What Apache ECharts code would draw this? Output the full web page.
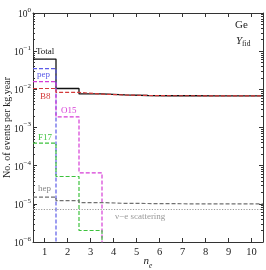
<!DOCTYPE html>
<html><head><meta charset="utf-8">
<script src="https://cdn.jsdelivr.net/npm/echarts@6/dist/echarts.min.js"></script>
<style>html,body{margin:0;padding:0;background:#fff}#c{width:266px;height:270px}</style>
</head><body><div id="c"></div>
<script>
// bin centres (n_e)
const bins = [1, 2, 3, 4, 5, 6, 7, 8, 9, 10];
// events per kg.year in each bin (0 = none)
const total = [0.062, 0.0105, 0.0076, 0.0072, 0.0069, 0.0068, 0.0068, 0.0067, 0.0067, 0.0067];
const pep   = [0.035, 0, 0, 0, 0, 0, 0, 0, 0, 0];
const b8    = [0.0105, 0.0083, 0.0075, 0.0071, 0.0069, 0.0068, 0.0068, 0.0067, 0.0067, 0.0067];
const o15   = [0.016, 0.0019, 6.5e-5, 0, 0, 0, 0, 0, 0, 0];
const f17   = [3.9e-4, 5.2e-5, 2.0e-6, 0, 0, 0, 0, 0, 0, 0];
const hep   = [1.5e-5, 1.22e-5, 1.08e-5, 1.03e-5, 1.02e-5, 1.01e-5, 1.0e-5, 1.0e-5, 1.0e-5, 1.0e-5];
const vesc  = [7.1e-6, 7.1e-6, 7.1e-6, 7.1e-6, 7.1e-6, 7.1e-6, 7.1e-6, 7.1e-6, 7.1e-6, 7.1e-6];
const xTicks = [1, 2, 3, 4, 5, 6, 7, 8, 9, 10];
const yTicks = [1e-6, 1e-5, 1e-4, 1e-3, 1e-2, 1e-1, 1];

const FONT = 'Liberation Serif';
const FLOOR = 1e-9;
function steps(vals) {
  const d = vals.map((v, i) => [bins[i] - 0.5, v > 0 ? v : FLOOR]);
  const last = vals[vals.length - 1];
  d.push([bins[bins.length - 1] + 0.5, last > 0 ? last : FLOOR]);
  return d;
}
const minorY = [];
for (let e = -6; e < 0; e++) for (let m = 2; m <= 9; m++) minorY.push(m * Math.pow(10, e));

function supLabel(v) {
  const e = Math.round(Math.log10(v));
  const s = e === 0 ? '0' : '\u2212' + (-e);
  return '{b|10}{s|' + s + '}';
}
const rich = {
  b: {fontFamily: FONT, fontSize: 9.5, color: '#222', lineHeight: 13, verticalAlign: 'bottom'},
  s: {fontFamily: FONT, fontSize: 7, color: '#222', lineHeight: 13, verticalAlign: 'top', padding: [0, 0, 6, 0]}
};

function ser(name, vals, color, type, w) {
  return {
    name, type: 'line', step: 'end', data: steps(vals), symbol: 'none',
    xAxisIndex: 0, yAxisIndex: 0, clip: true,
    lineStyle: {color, width: w || 1.2, type: type}, animation: false
  };
}

const chart = echarts.init(document.getElementById('c'));
const axisLine = {show: true, lineStyle: {color: '#333', width: 1}};
chart.setOption({
  animation: false,
  grid: {left: 33, right: 3, top: 13, bottom: 28, containLabel: false, outerBoundsMode: 'none'},
  xAxis: [
    {type: 'value', min: 0.5, max: 10.5, position: 'bottom',
     axisLine, splitLine: {show: false},
     axisTick: {inside: true, length: 4, customValues: xTicks, lineStyle: {color: '#333'}},
     axisLabel: {customValues: xTicks, fontFamily: FONT, fontSize: 10.5, color: '#222', margin: 5},
     name: '{i|n}{e|e}', nameLocation: 'middle', nameGap: 14, nameMoveOverlap: false,
     nameTextStyle: {rich: {
       i: {fontFamily: FONT, fontStyle: 'italic', fontSize: 11, color: '#222', lineHeight: 14, verticalAlign: 'top'},
       e: {fontFamily: FONT, fontStyle: 'italic', fontSize: 7.5, color: '#222', lineHeight: 14, verticalAlign: 'bottom', padding: [4, 0, 0, 0]}
     }}},
    {type: 'value', min: 0.5, max: 10.5, position: 'top',
     axisLine, splitLine: {show: false},
     axisTick: {inside: true, length: 4, customValues: xTicks, lineStyle: {color: '#333'}},
     axisLabel: {show: false}}
  ],
  yAxis: [
    {type: 'log', logBase: 10, min: 1e-6, max: 1, position: 'left',
     axisLine, splitLine: {show: false},
     axisTick: {inside: true, length: 4, customValues: yTicks, lineStyle: {color: '#333'}},
     axisLabel: {customValues: yTicks, formatter: supLabel, rich, margin: 2},
     name: 'No. of events per kg.year', nameLocation: 'middle', nameGap: 21, nameMoveOverlap: false,
     nameTextStyle: {fontFamily: FONT, fontSize: 10, color: '#222'}},
    {type: 'log', logBase: 10, min: 1e-6, max: 1, position: 'left',
     axisLine: {show: false}, splitLine: {show: false},
     axisTick: {inside: true, length: 2, customValues: minorY, lineStyle: {color: '#333'}},
     axisLabel: {show: false}},
    {type: 'log', logBase: 10, min: 1e-6, max: 1, position: 'right',
     axisLine, splitLine: {show: false},
     axisTick: {inside: true, length: 4, customValues: yTicks, lineStyle: {color: '#333'}},
     axisLabel: {show: false}},
    {type: 'log', logBase: 10, min: 1e-6, max: 1, position: 'right',
     axisLine: {show: false}, splitLine: {show: false},
     axisTick: {inside: true, length: 2, customValues: minorY, lineStyle: {color: '#333'}},
     axisLabel: {show: false}}
  ],
  series: [
    ser('Total', total, '#111', 'solid', 1.3),
    ser('pep', pep, '#5b5be8', [4, 2]),
    ser('O15', o15, '#d63cd6', [4, 2]),
    ser('F17', f17, '#3cc23c', [4, 2]),
    ser('hep', hep, '#707070', [4, 2]),
    ser('ve', vesc, '#999', [1.2, 1.5]),
    ser('B8', b8, '#d43a3a', [4, 2])
  ],
  graphic: [
    {type: 'text', left: 36, top: 47, style: {text: 'Total', font: '9px "Liberation Serif"', fill: '#111'}},
    {type: 'text', left: 37, top: 70, style: {text: 'pep', font: '9px "Liberation Serif"', fill: '#5b5be8'}},
    {type: 'text', left: 40, top: 92, style: {text: 'B8', font: '9px "Liberation Serif"', fill: '#d43a3a'}},
    {type: 'text', left: 61, top: 106, style: {text: 'O15', font: '9px "Liberation Serif"', fill: '#d63cd6'}},
    {type: 'text', left: 38, top: 133, style: {text: 'F17', font: '9px "Liberation Serif"', fill: '#3cc23c'}},
    {type: 'text', left: 38, top: 184, style: {text: 'hep', font: '9px "Liberation Serif"', fill: '#888'}},
    {type: 'text', left: 115, top: 212, style: {text: '\u03bd\u2212e scattering', font: '9px "Liberation Serif"', fill: '#999'}},
    {type: 'text', left: 235, top: 20, style: {text: 'Ge', font: '11px "Liberation Serif"', fill: '#222'}},
    {type: 'text', left: 236, top: 36, style: {
      rich: {y: {font: 'italic 11px "Liberation Serif"', fill: '#222'}, f: {font: '7.5px "Liberation Serif"', fill: '#222', padding: [5, 0, 0, 0]}},
      text: '{y|Y}{f|fid}'}}
  ]
});
</script>
</body></html>
